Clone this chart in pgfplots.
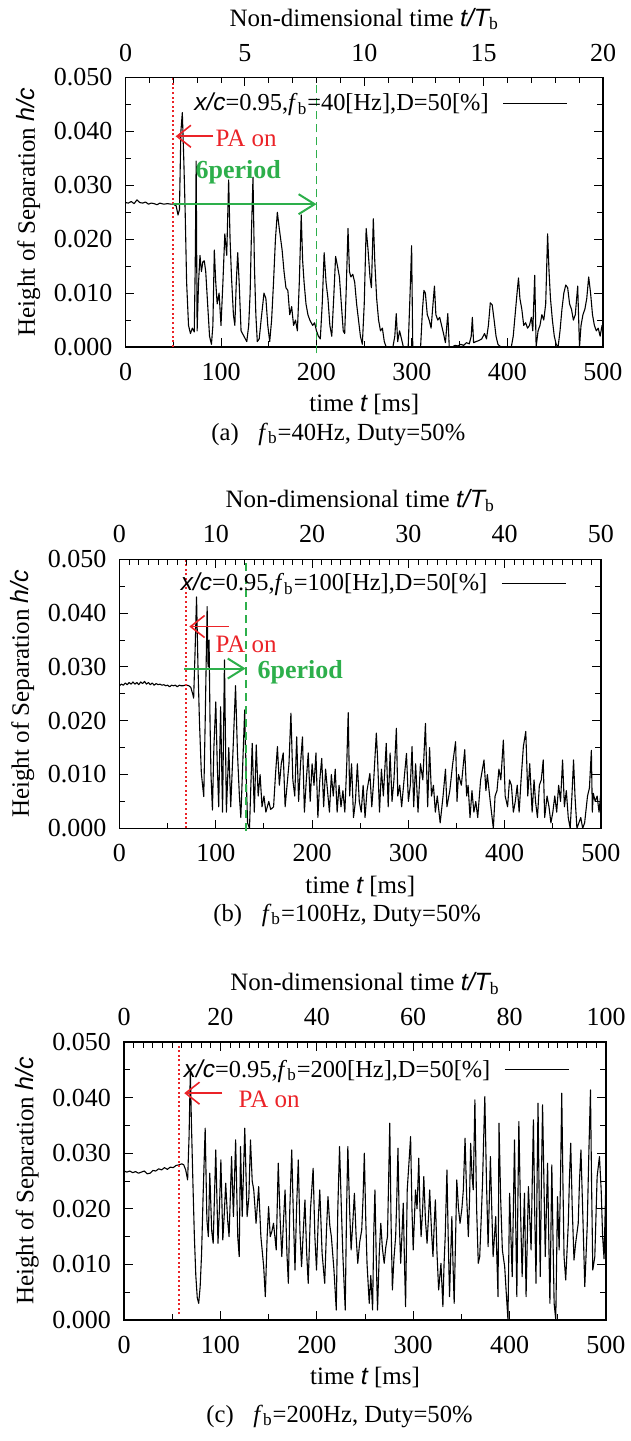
\documentclass[border=0pt]{standalone}
\usepackage{fontspec}
\setmainfont{Liberation Serif}
\setsansfont{Liberation Sans}
\usepackage{pgfplots}
\pgfplotsset{compat=1.18}
\usetikzlibrary{arrows.meta}
\definecolor{pared}{RGB}{235,35,40}
\definecolor{pgreen}{RGB}{45,175,75}
\tikzset{
  dat/.style={black, line width=0.55pt, line join=round},
  pa/.style={pared, line width=0.9pt, dash pattern=on 1pt off 1.3pt},
  gd/.style={pgreen, line width=0.9pt, dash pattern=on 4pt off 2.5pt},
  figcap/.style={font=\fontsize{12.3}{15}\selectfont, anchor=west, inner sep=0pt},
}
\pgfplotsset{
  mainax/.style={scale only axis, xmin=0, xmax=500, ymin=0, ymax=0.05,
    xtick={0,100,200,300,400,500}, minor x tick num=1,
    ytick={0,0.01,0.02,0.03,0.04,0.05}, minor y tick num=1,
    xtick pos=bottom, tick align=inside,
    /pgf/number format/assume math mode=true,
    y tick label style={xshift=-3pt, /pgf/number format/fixed, /pgf/number format/fixed zerofill, /pgf/number format/precision=3},
    scaled y ticks=false,
    tick label style={font=\fontsize{13}{15}\selectfont},
    x tick label style={yshift=-4.5pt},
    xlabel={time {\sffamily\itshape t} [ms]},
    ylabel={Height of Separation {\sffamily\itshape h/c}},
    clip=false,
    legend style={draw=none, fill=none, inner sep=0pt, column sep=5pt, font=\fontsize{12.2}{15}\selectfont},
    legend cell align=right, legend plot pos=right,
    legend image code/.code={\draw[##1] (0pt,0pt) -- (32pt,0pt);},
    axis line style={line width=0.6pt},
    every tick/.style={line width=0.5pt, black}},
  topax/.style={scale only axis, axis x line*=top, hide y axis, xmin=0, ymin=0, ymax=1,
    tick align=inside, /pgf/number format/assume math mode=true,
    tick label style={font=\fontsize{13}{15}\selectfont},
    x tick label style={yshift=4.5pt},
    axis line style={line width=0.6pt},
    every tick/.style={line width=0.5pt, black},
    xlabel={Non-dimensional time {\sffamily\itshape t/T}\textsubscript{b}}},
}
\begin{document}
\begin{tikzpicture}[font=\fontsize{12.5}{15}\selectfont]
\path[use as bounding box] (0pt,0pt) rectangle (315.5pt,-720.5pt);
% ---------------- panel (a)
\begin{axis}[mainax, at={(62.75pt,-173.5pt)}, anchor=south west, width=238.75pt, height=134.75pt,
  legend style={at={(0.927,0.905)}, anchor=east}]
\addplot[dat] coordinates {
(0,0.0268)(3,0.0267)(6,0.0270)(9,0.0266)(12,0.0273)(15,0.0268)(18,0.0267)(21,0.0269)(24,0.0265)(27,0.0267)(30,0.0266)(33,0.0264)(36,0.0267)(40,0.0265)(44,0.0266)(48,0.0265)(50,0.0265)(53,0.0262)(55,0.0245)(56.5,0.0255)(58,0.0400)(59.5,0.0435)(61,0.0350)(62.5,0.0250)(64,0.0120)(66,0.0040)(68,0.0025)(70,0.0035)(72,0.0028)(73,0.0150)(74,0.0345)(75,0.0030)(76.5,0.0120)(78,0.0170)(79.5,0.0140)(81,0.0158)(82.5,0.0160)(84,0.0140)(86,0.0080)(88,0.0020)(90,0.0005)(91.5,0.0040)(93,0.0180)(94.5,0.0120)(96,0.0080)(98,0.0100)(100,0.0040)(102,0.0120)(104,0.0210)(106,0.0170)(108,0.0310)(109.5,0.0200)(111,0.0130)(113,0.0060)(114.5,0.0040)(116,0.0120)(117.5,0.0175)(119,0.0120)(121,0.0030)(124,0.0020)(127,0.0010)(129,0.0040)(130.5,0.0100)(132,0.0220)(133.5,0.0315)(135,0.0150)(136.5,0.0060)(138,0.0010)(140,0.0015)(142,0.0050)(145,0.0100)(147,0.0090)(149,0.0040)(151,0.0010)(153,0.0050)(155,0.0120)(157,0.0200)(159,0.0250)(161,0.0220)(164,0.0180)(166,0.0140)(168,0.0110)(170,0.0105)(172,0.0060)(174,0.0075)(176,0.0040)(178,0.0050)(180,0.0030)(182,0.0120)(184,0.0245)(185.5,0.0160)(187,0.0120)(189,0.0080)(191,0.0060)(193,0.0050)(196,0.0040)(198,0.0045)(200,0.0030)(202,0.0020)(204,0.0015)(206,0.0080)(208,0.0175)(210,0.0120)(212,0.0090)(214,0.0040)(216,0.0020)(218,0.0090)(220,0.0168)(222,0.0150)(224,0.0130)(226,0.0080)(228,0.0030)(229.5,0.0025)(231,0.0100)(233,0.0220)(234.5,0.0140)(236,0.0130)(238,0.0135)(240,0.0120)(242,0.0080)(244,0.0050)(246,0.0020)(248,0.0005)(250,0.0080)(252,0.0220)(254,0.0180)(256,0.0130)(257.5,0.0110)(259.5,0.0238)(261,0.0160)(263,0.0090)(265,0.0050)(267,0.0030)(269,0.0035)(271,0.0010)(273,0.0000)(280,0.0000)(282,0.0020)(283.5,0.0062)(285,0.0010)(287,0.0030)(289,0.0015)(291,0.0000)(296,0.0000)(298,0.0100)(299.6,0.0188)(300.8,0.0000)(309,0.0000)(311,0.0070)(312.5,0.0105)(314,0.0100)(316,0.0060)(318,0.0050)(320,0.0035)(322,0.0080)(323.5,0.0113)(325,0.0060)(327,0.0050)(329,0.0055)(331,0.0040)(333,0.0025)(335,0.0008)(337.5,0.0062)(339,0.0000)(342,0.0000)(345,0.0003)(348,0.0002)(351,0.0005)(354,0.0003)(357,0.0008)(360,0.0006)(362,0.0020)(363.2,0.0055)(364.5,0.0008)(367,0.0010)(370,0.0012)(373,0.0015)(376,0.0025)(378,0.0015)(380,0.0040)(382,0.0082)(384,0.0078)(386,0.0050)(388,0.0020)(390,0.0005)(393,0.0000)(404,0.0000)(406,0.0020)(408,0.0060)(410,0.0100)(411.5,0.0128)(413,0.0090)(415,0.0070)(417,0.0040)(419,0.0045)(421,0.0035)(423,0.0040)(425,0.0055)(426.5,0.0030)(428.5,0.0133)(430,0.0000)(432,0.0030)(434,0.0040)(436,0.0060)(438,0.0050)(440,0.0080)(442,0.0210)(443.5,0.0140)(445,0.0090)(447,0.0050)(449,0.0020)(451,0.0005)(453,0.0000)(455,0.0030)(457,0.0070)(459,0.0100)(461,0.0115)(463,0.0110)(465,0.0080)(467,0.0070)(469,0.0050)(471,0.0060)(473.5,0.0113)(475.4,0.0000)(477,0.0040)(479,0.0060)(481,0.0070)(483,0.0090)(485,0.0130)(487,0.0100)(489,0.0060)(491,0.0040)(493,0.0030)(495,0.0035)(497,0.0020)(499,0.0040)(500,0.0025)
};
\addlegendentry{{\sffamily\itshape x/c}=0.95,\textit{f}\textsubscript{b}=40[Hz],D=50[\%]}
\draw[pa] (axis cs:50,0) -- (axis cs:50,0.05);
\draw[gd] (axis cs:200,-0.0012) -- (axis cs:200,0.05);
\draw[pared, line width=0.8pt, -{Straight Barb[length=7pt,width=11pt]}] (axis cs:92,0.0391) -- (axis cs:52.5,0.0391);
\node[pared, anchor=west, inner sep=0pt] at (axis cs:94,0.0387) {PA on};
\draw[pgreen, line width=1pt, -{Straight Barb[length=8pt,width=10pt]}] (axis cs:50,0.0265) -- (axis cs:200,0.0265);
\node[pgreen, inner sep=0pt, font=\fontsize{13}{15}\selectfont\bfseries] at (axis cs:118,0.0325) {6period};
\end{axis}
\begin{axis}[topax, at={(62.75pt,-173.5pt)}, anchor=south west, width=238.75pt, height=134.75pt,
  xmax=20, xtick={0,5,10,15,20}, minor x tick num=4]
\end{axis}
\node[figcap] at (105.5pt,-217pt) {(a)\hspace{0.8em}\textit{f}\textsubscript{b}=40Hz, Duty=50\%};
% ---------------- panel (b)
\begin{axis}[mainax, at={(59.75pt,-414.15pt)}, anchor=south west, width=240.75pt, height=134.5pt,
  legend style={at={(0.929,0.911)}, anchor=east}]
\addplot[dat] coordinates {
(0,0.0265)(2,0.0268)(4,0.0266)(6,0.0270)(8,0.0267)(10,0.0271)(12,0.0268)(14,0.0272)(16,0.0268)(18,0.0271)(20,0.0267)(22,0.0272)(24,0.0269)(26,0.0273)(28,0.0268)(30,0.0271)(32,0.0267)(34,0.0270)(36,0.0266)(38,0.0269)(40,0.0267)(42,0.0268)(44,0.0266)(46,0.0267)(48,0.0265)(50,0.0266)(52,0.0263)(54,0.0266)(56,0.0265)(58,0.0266)(60,0.0263)(62,0.0266)(64,0.0265)(66,0.0265)(68,0.0266)(70,0.0266)(72,0.0265)(74,0.0262)(76,0.0250)(77,0.0242)(78.5,0.0330)(80,0.0430)(81.5,0.0300)(83,0.0200)(85,0.0102)(87.5,0.0059)(89,0.0200)(91,0.0412)(92,0.0300)(93,0.0350)(94,0.0200)(95,0.0100)(96.5,0.0034)(98,0.0150)(100,0.0235)(101.5,0.0120)(103,0.0040)(105,0.0226)(107,0.0030)(109,0.0313)(111,0.0030)(113.5,0.0150)(115.5,0.0040)(118,0.0150)(120.5,0.0265)(122.5,0.0140)(124.5,0.0060)(126,0.0020)(128,0.0120)(130,0.0220)(131.5,0.0100)(133,0.0010)(135,0.0000)(137.8,0.0158)(140,0.0030)(142,0.0155)(144,0.0060)(146,0.0100)(148,0.0040)(150,0.0060)(152,0.0030)(155,0.0050)(157,0.0035)(160,0.0040)(162,0.0100)(164,0.0152)(166,0.0080)(168,0.0120)(170,0.0140)(172,0.0040)(174,0.0080)(176,0.0120)(178,0.0214)(180,0.0090)(182,0.0060)(184,0.0170)(186,0.0050)(188,0.0120)(190,0.0170)(192,0.0030)(194,0.0090)(196,0.0140)(198,0.0050)(200,0.0120)(202,0.0080)(204,0.0140)(206,0.0020)(208,0.0090)(210,0.0130)(212,0.0040)(214,0.0110)(216,0.0070)(218,0.0030)(220,0.0100)(222,0.0060)(224,0.0110)(226,0.0030)(228,0.0080)(230,0.0040)(232,0.0070)(234,0.0030)(236,0.0120)(237.5,0.0215)(239,0.0060)(241,0.0120)(243,0.0020)(245,0.0050)(247,0.0120)(249,0.0050)(251,0.0030)(253,0.0080)(255,0.0020)(257,0.0070)(260,0.0102)(262,0.0040)(264,0.0090)(266.7,0.0177)(268,0.0130)(270,0.0030)(272,0.0110)(274,0.0060)(277,0.0158)(279,0.0040)(281,0.0140)(283,0.0050)(285,0.0090)(287.5,0.0186)(289,0.0060)(291,0.0080)(293,0.0040)(296,0.0100)(298,0.0139)(300,0.0050)(302,0.0080)(303.8,0.0152)(305.5,0.0040)(307.5,0.0120)(310,0.0030)(312.5,0.0120)(315,0.0090)(317.7,0.0195)(320,0.0040)(322,0.0150)(324,0.0060)(326,0.0080)(328,0.0030)(330,0.0060)(333,0.0010)(336,0.0060)(338.5,0.0110)(340,0.0040)(343,0.0070)(346,0.0120)(349,0.0161)(350.5,0.0050)(352,0.0100)(355,0.0080)(358.5,0.0146)(360.5,0.0060)(362,0.0080)(364,0.0020)(366,0.0070)(368,0.0030)(370,0.0050)(372,0.0020)(375,0.0090)(378.5,0.0127)(380.5,0.0070)(382,0.0100)(385,0.0050)(388.2,0.0000)(390,0.0060)(392,0.0070)(394,0.0110)(396,0.0090)(398.6,0.0164)(400.5,0.0060)(403,0.0040)(405,0.0090)(407,0.0080)(409,0.0030)(411,0.0050)(413,0.0080)(415,0.0030)(417,0.0090)(419.4,0.0152)(421.9,0.0180)(424,0.0060)(426,0.0120)(428.5,0.0030)(430.5,0.0090)(432,0.0050)(434,0.0020)(436,0.0080)(438,0.0090)(440,0.0127)(441.5,0.0020)(444,0.0060)(446,0.0040)(448,0.0010)(450,0.0030)(452,0.0060)(454,0.0030)(456,0.0080)(458,0.0050)(460.1,0.0127)(462,0.0040)(464,0.0070)(466,0.0020)(468,0.0000)(469.8,0.0060)(471.5,0.0127)(473,0.0060)(475,0.0000)(477,0.0010)(479,0.0020)(481,0.0000)(483,0.0010)(486,0.0060)(488,0.0075)(490,0.0145)(491,0.0030)(492,0.0065)(494,0.0050)(496,0.0060)(498,0.0030)(500,0.0070)
};
\addlegendentry{{\sffamily\itshape x/c}=0.95,\textit{f}\textsubscript{b}=100[Hz],D=50[\%]}
\draw[pa] (axis cs:69,0) -- (axis cs:69,0.05);
\draw[gd] (axis cs:131,-0.0005) -- (axis cs:131,0.05);
\draw[pared, line width=0.8pt, -{Straight Barb[length=7pt,width=11pt]}] (axis cs:113.5,0.0375) -- (axis cs:72.5,0.0375);
\node[pared, anchor=west, inner sep=0pt] at (axis cs:99.5,0.0342) {PA on};
\draw[pgreen, line width=1pt, -{Straight Barb[length=8pt,width=10pt]}] (axis cs:67,0.0297) -- (axis cs:131,0.0297);
\node[pgreen, anchor=west, inner sep=0pt, font=\fontsize{13}{15}\selectfont\bfseries] at (axis cs:143,0.0291) {6period};
\end{axis}
\begin{axis}[topax, at={(59.75pt,-414.15pt)}, anchor=south west, width=240.75pt, height=134.5pt,
  xmax=50, xtick={0,10,20,30,40,50}, minor x tick num=9]
\end{axis}
\node[figcap] at (106.5pt,-457.5pt) {(b)\hspace{0.8em}\textit{f}\textsubscript{b}=100Hz, Duty=50\%};
% ---------------- panel (c)
\begin{axis}[mainax, at={(62pt,-660pt)}, anchor=south west, width=241pt, height=139pt,
  legend style={at={(0.925,0.9)}, anchor=east}]
\addplot[dat] coordinates {
(0,0.0268)(3,0.0266)(6,0.0268)(9,0.0265)(12,0.0267)(15,0.0264)(18,0.0266)(21,0.0268)(24,0.0263)(27,0.0264)(30,0.0269)(33,0.0268)(36,0.0272)(39,0.0270)(42,0.0274)(45,0.0271)(48,0.0275)(51,0.0274)(54,0.0278)(57,0.0279)(60,0.0281)(62,0.0279)(64,0.0270)(66,0.0252)(67.5,0.0330)(68.8,0.0447)(70,0.0350)(71.5,0.0246)(73,0.0150)(74.5,0.0080)(76,0.0040)(77.5,0.0030)(79,0.0060)(80.5,0.0120)(82,0.0220)(84.2,0.0345)(86,0.0180)(87.5,0.0150)(89,0.0264)(91,0.0160)(92.5,0.0138)(95.2,0.0306)(97.5,0.0138)(99,0.0200)(100.5,0.0288)(102.5,0.0144)(104,0.0190)(105.5,0.0246)(107.5,0.0180)(109,0.0150)(111.6,0.0294)(113.5,0.0186)(115.8,0.0324)(118,0.0150)(119.5,0.0114)(120.9,0.0312)(122.6,0.0186)(125.3,0.0345)(127.7,0.0186)(129.5,0.0220)(131.2,0.0324)(133,0.0250)(134.6,0.0234)(137,0.0174)(139.7,0.0240)(142,0.0150)(144.9,0.0096)(146.6,0.0042)(148.5,0.0150)(150,0.0204)(151.7,0.0150)(153.5,0.0160)(155.1,0.0174)(157.9,0.0126)(160,0.0282)(162,0.0180)(163.7,0.0114)(165.5,0.0180)(167.1,0.0234)(169,0.0120)(170.5,0.0066)(172,0.0200)(174,0.0306)(175.8,0.0180)(177.4,0.0090)(179,0.0200)(180.8,0.0288)(182.5,0.0160)(184.2,0.0096)(186,0.0160)(187.7,0.0216)(189.5,0.0120)(191.1,0.0066)(193.5,0.0200)(196.2,0.0273)(198,0.0150)(199.7,0.0090)(201.5,0.0180)(203.1,0.0234)(205.5,0.0120)(208.2,0.0066)(210,0.0160)(211.6,0.0222)(213.5,0.0170)(215.1,0.0150)(217.8,0.0090)(220.2,0.0018)(221.8,0.0200)(223.6,0.0312)(225.5,0.0200)(227.1,0.0114)(229.5,0.0018)(230.9,0.0200)(232.2,0.0312)(234,0.0200)(235.6,0.0126)(237.5,0.0180)(239,0.0228)(240.8,0.0150)(242.5,0.0102)(244.5,0.0140)(246.6,0.0162)(248,0.0220)(249.3,0.0300)(250.8,0.0180)(252.1,0.0102)(254.4,0.0030)(256,0.0080)(257.9,0.0018)(259,0.0150)(260.3,0.0234)(261.8,0.0100)(263,0.0018)(264.8,0.0120)(266.4,0.0174)(268,0.0130)(269.9,0.0102)(271.5,0.0130)(273.3,0.0150)(274.5,0.0250)(275.7,0.0354)(277,0.0180)(278.4,0.0054)(280,0.0110)(281.8,0.0150)(283,0.0220)(284.2,0.0309)(285.5,0.0180)(287,0.0102)(288.5,0.0160)(289.7,0.0210)(291,0.0100)(292.1,0.0024)(293.8,0.0234)(295.5,0.0280)(297.3,0.0330)(298.7,0.0200)(300,0.0126)(302.4,0.0234)(304,0.0200)(305.8,0.0291)(307,0.0200)(308.2,0.0150)(309.8,0.0200)(311,0.0258)(312.7,0.0180)(314.4,0.0138)(316,0.0190)(317.1,0.0234)(319,0.0160)(320.5,0.0114)(322,0.0180)(323,0.0216)(324.7,0.0120)(326.4,0.0054)(328.8,0.0102)(330.8,0.0024)(332,0.0100)(333.2,0.0150)(335,0.0270)(336.3,0.0150)(337.7,0.0042)(339,0.0120)(340.1,0.0186)(341.3,0.0100)(342.5,0.0030)(344,0.0150)(345.2,0.0252)(347,0.0200)(348.6,0.0174)(350.5,0.0200)(352,0.0234)(353.8,0.0327)(355.5,0.0220)(357.2,0.0150)(358.5,0.0220)(359.6,0.0318)(361,0.0260)(362.3,0.0234)(364,0.0396)(365.8,0.0200)(367.5,0.0102)(369,0.0114)(370.5,0.0180)(371.9,0.0246)(373,0.0320)(374.3,0.0402)(376,0.0250)(377.7,0.0132)(379,0.0220)(380.1,0.0294)(381.5,0.0200)(382.9,0.0114)(384.3,0.0150)(385.6,0.0186)(387,0.0100)(388,0.0042)(389,0.0354)(390.7,0.0220)(392.5,0.0126)(394.9,0.0096)(396.5,0.0050)(398.3,0.0000)(400,0.0228)(401.4,0.0150)(402.7,0.0078)(403.9,0.0200)(405.1,0.0324)(406.3,0.0180)(407.5,0.0042)(408.5,0.0200)(409.6,0.0357)(411.3,0.0200)(413,0.0078)(415.4,0.0228)(417.1,0.0042)(419.5,0.0240)(421,0.0180)(422.3,0.0126)(423.5,0.0250)(424.7,0.0360)(426,0.0200)(427.4,0.0066)(428.5,0.0250)(429.5,0.0390)(430.8,0.0200)(431.8,0.0078)(433,0.0250)(434.2,0.0387)(435.6,0.0250)(437,0.0114)(438.2,0.0200)(439.4,0.0282)(440.6,0.0150)(441.8,0.0030)(442.8,0.0150)(443.8,0.0279)(445,0.0150)(446.2,0.0030)(447.9,0.0000)(449.7,0.0222)(451.4,0.0126)(452.8,0.0250)(454.1,0.0408)(455.3,0.0250)(456.5,0.0114)(458.2,0.0072)(460.9,0.0174)(462,0.0250)(463.4,0.0318)(465,0.0200)(466.8,0.0108)(468.5,0.0138)(471.2,0.0174)(472.5,0.0250)(474,0.0306)(476,0.0186)(478,0.0060)(480.5,0.0168)(482.2,0.0300)(483.9,0.0414)(485,0.0250)(486.3,0.0090)(488.4,0.0114)(490.8,0.0258)(493.2,0.0294)(495,0.0234)(496.5,0.0150)(498,0.0110)(500,0.0260)
};
\addlegendentry{{\sffamily\itshape x/c}=0.95,\textit{f}\textsubscript{b}=200[Hz],D=50[\%]}
\draw[pa] (axis cs:57,0.001) -- (axis cs:57,0.05);
\draw[pared, line width=0.8pt, -{Straight Barb[length=7pt,width=11pt]}] (axis cs:102,0.0408) -- (axis cs:62.5,0.0408);
\node[pared, anchor=west, inner sep=0pt] at (axis cs:118.5,0.0397) {PA on};
\end{axis}
\begin{axis}[topax, at={(62pt,-660pt)}, anchor=south west, width=241pt, height=139pt,
  xmax=100, xtick={0,20,40,60,80,100}, minor x tick num=9]
\end{axis}
\node[figcap] at (103pt,-708pt) {(c)\hspace{0.8em}\textit{f}\textsubscript{b}=200Hz, Duty=50\%};
\end{tikzpicture}
\end{document}
